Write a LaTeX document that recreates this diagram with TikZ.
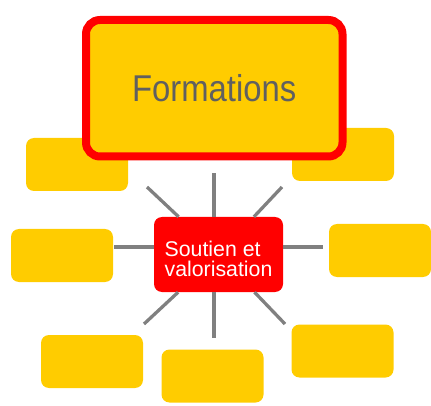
\documentclass[tikz,border=0pt]{standalone}
\usepackage{fontspec}
\setmainfont{Liberation Sans}
\newfontfamily\narrowsf[FakeStretch=0.88]{Liberation Sans}
\definecolor{gold}{HTML}{FFCC00}
\definecolor{ink}{HTML}{606060}
\definecolor{spoke}{HTML}{808080}

\begin{document}
\begin{tikzpicture}[x=1pt,y=-1pt,
        yellowbox/.style={fill=gold,rounded corners=8pt,minimum width=102pt,minimum height=53pt,inner sep=0pt},
        spokeline/.style={draw=spoke,line width=3.3pt}]
        \useasboundingbox (0,0) rectangle (431,406);
        \def\boxes{77/164.5,62/255.5,343/154.5,380/250.5,92/361.5,212.5/376,342.5/351}
        \def\ends{t/214/173,b/214/338,l/114/247,r/323/247,tl/147/187,tr/282/187,bl/144/324,br/285/324}

        \foreach \x/\y [count=\i] in \boxes
            \node[yellowbox] (box\i) at (\x,\y) {};

        \node[draw=red,line width=8pt,fill=gold,rounded corners=14pt,minimum width=256.5pt,minimum height=136.5pt,
            inner sep=0pt,text=ink,font=\narrowsf\fontsize{37.3}{40}\selectfont] (form) at (214.25,88.25) {Formations};

        \node[fill=red,rounded corners=8pt,minimum width=129pt,minimum height=75pt,inner sep=0pt,
            text=white,align=left,text height=44.5pt,font=\fontsize{21.3}{20.5}\selectfont] (sv) at (218.5,254.5) {Soutien et\\valorisation};

        \foreach \n/\x/\y in \ends
            \coordinate (e\n) at (\x,\y);

        \draw[spokeline] (sv.north -| et) -- (et);
        \draw[spokeline] (sv.south -| eb) -- (eb);
        \draw[spokeline] (sv.west |- el) -- (el);
        \draw[spokeline] (sv.east |- er) -- (er);
        \foreach \n in {tl,tr,bl,br}
            \draw[spokeline] (sv) -- (e\n);
    \end{tikzpicture}
\end{document}
